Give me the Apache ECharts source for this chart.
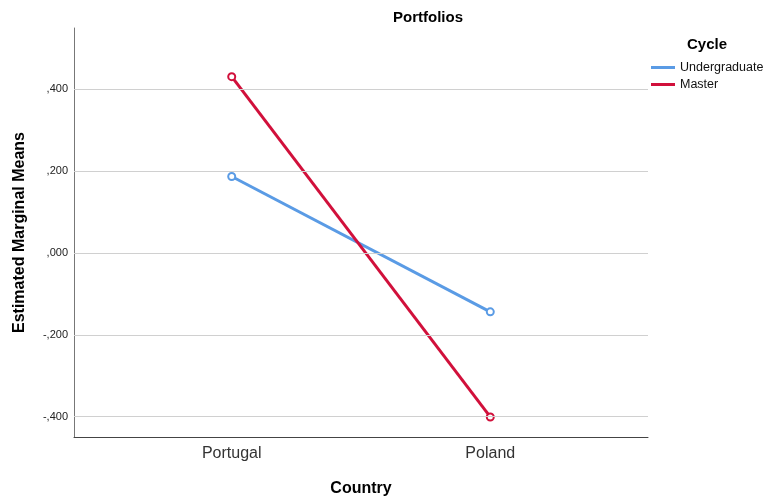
<!DOCTYPE html>
<html>
<head>
<meta charset="utf-8">
<style>
  html, body { margin: 0; padding: 0; background: #ffffff; }
  #chart { width: 765px; height: 497px; }
</style>
<script src="https://cdn.jsdelivr.net/npm/echarts@6/dist/echarts.min.js"></script>
</head>
<body>
<div id="chart"></div>
<script>
// Estimated marginal means of Portfolios by Country and Cycle
const categories = ['Portugal', 'Poland'];
const seriesNames = ['Undergraduate', 'Master'];
const undergraduate = [0.187, -0.144];
const master = [0.431, -0.401];
const yTicks = [-0.4, -0.2, 0, 0.2, 0.4];

const FONT = '"Liberation Sans", Arial, sans-serif';
const colors = ['#5a9be5', '#d1103b'];

// SPSS-style decimal comma without leading zero: 0.4 -> ",400"
function spssNumber(v) {
  const s = Math.abs(v).toFixed(3).replace(/^0\./, ',');
  return (v < 0 ? '-' : '') + s;
}

function toPoints(values) {
  return values.map((v, i) => [i, v]);
}

const chart = echarts.init(document.getElementById('chart'), null, { renderer: 'canvas' });

chart.setOption({
  animation: false,
  backgroundColor: '#ffffff',
  title: [
    {
      text: 'Portfolios',
      left: 393, top: 10,
      padding: 0,
      textStyle: { fontFamily: FONT, fontSize: 15, fontWeight: 'bold', color: '#000' }
    },
    {
      text: 'Cycle',
      left: 687, top: 37,
      padding: 0,
      textStyle: { fontFamily: FONT, fontSize: 15, fontWeight: 'bold', color: '#000' }
    }
  ],
  legend: {
    data: seriesNames,
    orient: 'vertical',
    left: 651, top: 61,
    padding: 0,
    icon: 'rect',
    itemWidth: 24, itemHeight: 3,
    itemGap: 4,
    textStyle: { fontFamily: FONT, fontSize: 12.5, color: '#111' }
  },
  grid: { left: 74, right: 117, top: 28, bottom: 60, outerBoundsMode: 'none', containLabel: false },
  xAxis: {
    type: 'value',
    min: -0.61, max: 1.61,
    name: 'Country',
    nameLocation: 'middle',
    nameGap: 44,
    nameTextStyle: { fontFamily: FONT, fontSize: 16, fontWeight: 'bold', color: '#000' },
    axisLine: { show: true, onZero: false, lineStyle: { color: '#444', width: 1 } },
    axisTick: { show: false },
    splitLine: { show: false },
    axisLabel: {
      customValues: categories.map((c, i) => i),
      formatter: v => categories[Math.round(v)] || '',
      margin: 9,
      fontFamily: FONT, fontSize: 16, color: '#333'
    }
  },
  yAxis: {
    type: 'value',
    min: -0.45, max: 0.55,
    name: 'Estimated Marginal Means',
    nameLocation: 'middle',
    nameGap: 46,
    nameTextStyle: { fontFamily: FONT, fontSize: 16, fontWeight: 'bold', color: '#000' },
    axisLine: { show: true, onZero: false, lineStyle: { color: '#777', width: 1 } },
    axisTick: { show: false },
    splitLine: { show: false },
    axisLabel: {
      customValues: yTicks,
      formatter: v => spssNumber(v),
      margin: 6,
      fontFamily: FONT, fontSize: 11, color: '#222'
    }
  },
  series: [
    {
      // horizontal reference lines at the labelled ticks
      name: 'grid',
      type: 'line',
      data: [],
      silent: true,
      z: 1,
      markLine: {
        silent: true,
        symbol: 'none',
        label: { show: false },
        lineStyle: { color: '#d0d0d0', width: 1.2, type: 'solid' },
        data: yTicks.map(t => ({ yAxis: t }))
      }
    },
    {
      name: seriesNames[0],
      type: 'line',
      z: 3,
      data: toPoints(undergraduate),
      symbol: 'emptyCircle',
      symbolSize: 7,
      showAllSymbol: true,
      lineStyle: { color: colors[0], width: 3 },
      itemStyle: { color: colors[0], borderWidth: 1.5 }
    },
    {
      name: seriesNames[1],
      type: 'line',
      z: 4,
      data: toPoints(master),
      symbol: 'emptyCircle',
      symbolSize: 7,
      showAllSymbol: true,
      lineStyle: { color: colors[1], width: 3 },
      itemStyle: { color: colors[1], borderWidth: 1.5 }
    }
  ]
});
</script>
</body>
</html>
